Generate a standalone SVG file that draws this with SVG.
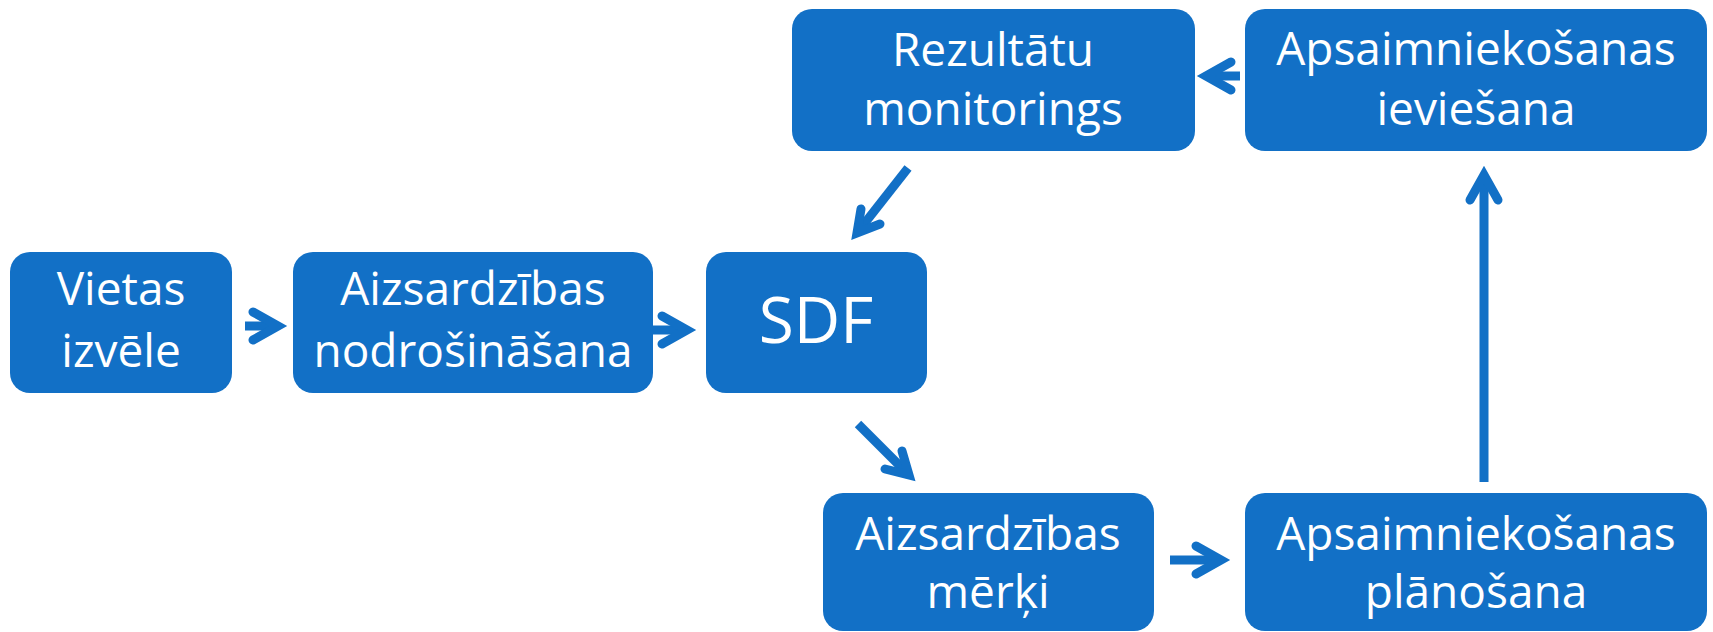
<svg xmlns="http://www.w3.org/2000/svg" width="1713" height="632" viewBox="0 0 1713 632">
<style>
.box{fill:#1270C6;}
.t{font-family:"Open Sans","Noto Sans",sans-serif;font-size:46px;fill:#ffffff;text-anchor:middle;}
.big{font-size:64px;}
.c{stroke:#1270C6;stroke-width:9;fill:none;}
.h{stroke:#1270C6;stroke-width:9;fill:none;stroke-linecap:round;stroke-linejoin:miter;stroke-miterlimit:10;}
</style>
<rect width="1713" height="632" fill="#ffffff"/>
<g id="connectors">
<line class="c" x1="245" y1="326" x2="278" y2="326"/>
<path class="h" d="M253,312 L278,326 L253,340"/>
<line class="c" x1="652" y1="330" x2="687" y2="330"/>
<path class="h" d="M662,316 L687,330 L662,344"/>
<line class="c" x1="908" y1="168" x2="857" y2="233"/>
<path class="h" d="M861,209 L857,233 L880,224"/>
<line class="c" x1="1240" y1="76" x2="1206" y2="76"/>
<path class="h" d="M1231,62 L1206,76 L1231,90"/>
<line class="c" x1="1484" y1="482" x2="1484" y2="175"/>
<path class="h" d="M1470,200 L1484,175 L1498,200"/>
<line class="c" x1="858" y1="424" x2="909" y2="475"/>
<path class="h" d="M902,451 L909,475 L885,469"/>
<line class="c" x1="1170" y1="560" x2="1221" y2="560"/>
<path class="h" d="M1196,546 L1221,560 L1196,574"/>
</g>
<g id="n1"><rect class="box" x="10" y="252" width="222" height="141" rx="20"/>
<text class="t" x="121" y="305">Vietas</text><text class="t" x="121" y="367">izvēle</text></g>
<g id="n2"><rect class="box" x="293" y="252" width="360" height="141" rx="20"/>
<text class="t" x="473" y="305">Aizsardzības</text><text class="t" x="473" y="367">nodrošināšana</text></g>
<g id="n3"><rect class="box" x="706" y="252" width="221" height="141" rx="20"/>
<text class="t big" x="816" y="343">SDF</text></g>
<g id="n4"><rect class="box" x="792" y="9" width="403" height="142" rx="20"/>
<text class="t" x="993" y="66">Rezultātu</text><text class="t" x="993" y="125">monitorings</text></g>
<g id="n5"><rect class="box" x="1245" y="9" width="462" height="142" rx="20"/>
<text class="t" x="1476" y="65">Apsaimniekošanas</text><text class="t" x="1476" y="125">ieviešana</text></g>
<g id="n6"><rect class="box" x="823" y="493" width="331" height="138" rx="20"/>
<text class="t" x="988" y="550">Aizsardzības</text><text class="t" x="988" y="608">mērķi</text></g>
<g id="n7"><rect class="box" x="1245" y="493" width="462" height="138" rx="20"/>
<text class="t" x="1476" y="550">Apsaimniekošanas</text><text class="t" x="1476" y="608">plānošana</text></g>
</svg>
